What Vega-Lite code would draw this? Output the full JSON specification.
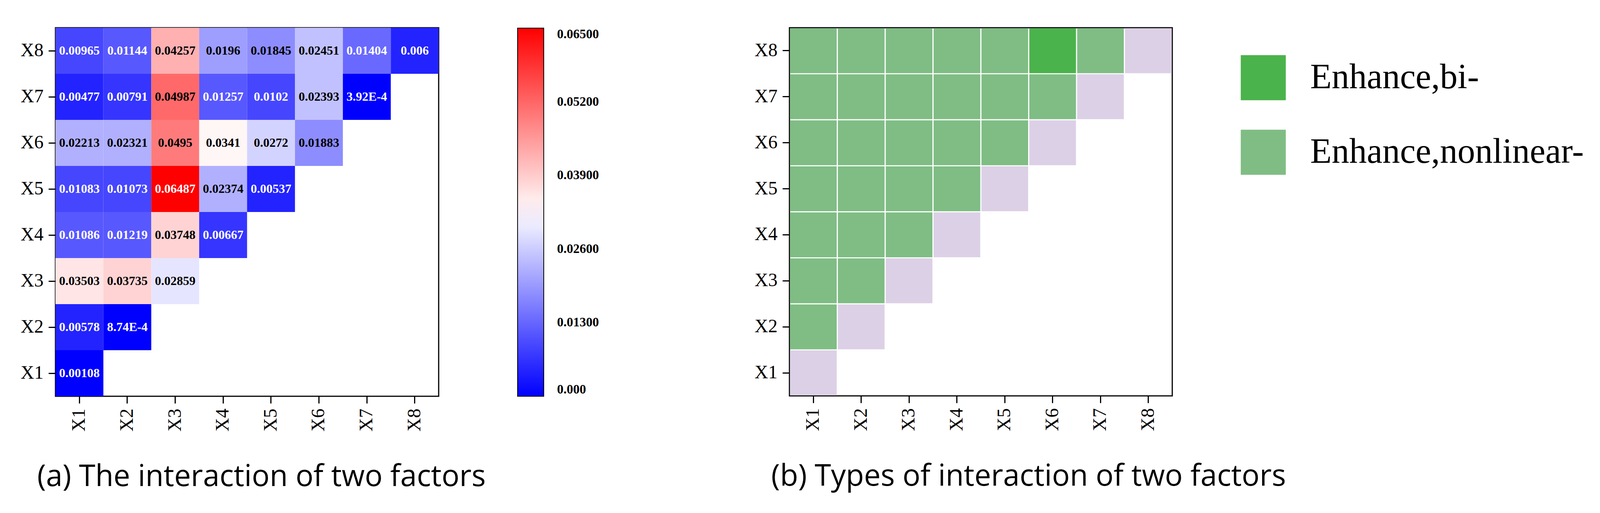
{
  "$schema": "https://vega.github.io/schema/vega-lite/v6.json",
  "background": "white",
  "padding": {"left": 50, "top": 69, "right": 0, "bottom": 24},
  "spacing": 393,
  "resolve": {"scale": {"color": "independent"}, "legend": {"color": "independent"}},
  "datasets": {
    "a": [
      {"row": "X8", "col": "X1", "v": 0.00965, "label": "0.00965"},
      {"row": "X8", "col": "X2", "v": 0.01144, "label": "0.01144"},
      {"row": "X8", "col": "X3", "v": 0.04257, "label": "0.04257"},
      {"row": "X8", "col": "X4", "v": 0.0196, "label": "0.0196"},
      {"row": "X8", "col": "X5", "v": 0.01845, "label": "0.01845"},
      {"row": "X8", "col": "X6", "v": 0.02451, "label": "0.02451"},
      {"row": "X8", "col": "X7", "v": 0.01404, "label": "0.01404"},
      {"row": "X8", "col": "X8", "v": 0.006, "label": "0.006"},
      {"row": "X7", "col": "X1", "v": 0.00477, "label": "0.00477"},
      {"row": "X7", "col": "X2", "v": 0.00791, "label": "0.00791"},
      {"row": "X7", "col": "X3", "v": 0.04987, "label": "0.04987"},
      {"row": "X7", "col": "X4", "v": 0.01257, "label": "0.01257"},
      {"row": "X7", "col": "X5", "v": 0.0102, "label": "0.0102"},
      {"row": "X7", "col": "X6", "v": 0.02393, "label": "0.02393"},
      {"row": "X7", "col": "X7", "v": 0.000392, "label": "3.92E-4"},
      {"row": "X6", "col": "X1", "v": 0.02213, "label": "0.02213"},
      {"row": "X6", "col": "X2", "v": 0.02321, "label": "0.02321"},
      {"row": "X6", "col": "X3", "v": 0.0495, "label": "0.0495"},
      {"row": "X6", "col": "X4", "v": 0.0341, "label": "0.0341"},
      {"row": "X6", "col": "X5", "v": 0.0272, "label": "0.0272"},
      {"row": "X6", "col": "X6", "v": 0.01883, "label": "0.01883"},
      {"row": "X5", "col": "X1", "v": 0.01083, "label": "0.01083"},
      {"row": "X5", "col": "X2", "v": 0.01073, "label": "0.01073"},
      {"row": "X5", "col": "X3", "v": 0.06487, "label": "0.06487"},
      {"row": "X5", "col": "X4", "v": 0.02374, "label": "0.02374"},
      {"row": "X5", "col": "X5", "v": 0.00537, "label": "0.00537"},
      {"row": "X4", "col": "X1", "v": 0.01086, "label": "0.01086"},
      {"row": "X4", "col": "X2", "v": 0.01219, "label": "0.01219"},
      {"row": "X4", "col": "X3", "v": 0.03748, "label": "0.03748"},
      {"row": "X4", "col": "X4", "v": 0.00667, "label": "0.00667"},
      {"row": "X3", "col": "X1", "v": 0.03503, "label": "0.03503"},
      {"row": "X3", "col": "X2", "v": 0.03735, "label": "0.03735"},
      {"row": "X3", "col": "X3", "v": 0.02859, "label": "0.02859"},
      {"row": "X2", "col": "X1", "v": 0.00578, "label": "0.00578"},
      {"row": "X2", "col": "X2", "v": 0.000874, "label": "8.74E-4"},
      {"row": "X1", "col": "X1", "v": 0.00108, "label": "0.00108"}
    ],
    "b": [
      {"row": "X8", "col": "X1", "type": "Enhance,nonlinear-"},
      {"row": "X8", "col": "X2", "type": "Enhance,nonlinear-"},
      {"row": "X8", "col": "X3", "type": "Enhance,nonlinear-"},
      {"row": "X8", "col": "X4", "type": "Enhance,nonlinear-"},
      {"row": "X8", "col": "X5", "type": "Enhance,nonlinear-"},
      {"row": "X8", "col": "X6", "type": "Enhance,bi-"},
      {"row": "X8", "col": "X7", "type": "Enhance,nonlinear-"},
      {"row": "X8", "col": "X8", "type": "Self"},
      {"row": "X7", "col": "X1", "type": "Enhance,nonlinear-"},
      {"row": "X7", "col": "X2", "type": "Enhance,nonlinear-"},
      {"row": "X7", "col": "X3", "type": "Enhance,nonlinear-"},
      {"row": "X7", "col": "X4", "type": "Enhance,nonlinear-"},
      {"row": "X7", "col": "X5", "type": "Enhance,nonlinear-"},
      {"row": "X7", "col": "X6", "type": "Enhance,nonlinear-"},
      {"row": "X7", "col": "X7", "type": "Self"},
      {"row": "X6", "col": "X1", "type": "Enhance,nonlinear-"},
      {"row": "X6", "col": "X2", "type": "Enhance,nonlinear-"},
      {"row": "X6", "col": "X3", "type": "Enhance,nonlinear-"},
      {"row": "X6", "col": "X4", "type": "Enhance,nonlinear-"},
      {"row": "X6", "col": "X5", "type": "Enhance,nonlinear-"},
      {"row": "X6", "col": "X6", "type": "Self"},
      {"row": "X5", "col": "X1", "type": "Enhance,nonlinear-"},
      {"row": "X5", "col": "X2", "type": "Enhance,nonlinear-"},
      {"row": "X5", "col": "X3", "type": "Enhance,nonlinear-"},
      {"row": "X5", "col": "X4", "type": "Enhance,nonlinear-"},
      {"row": "X5", "col": "X5", "type": "Self"},
      {"row": "X4", "col": "X1", "type": "Enhance,nonlinear-"},
      {"row": "X4", "col": "X2", "type": "Enhance,nonlinear-"},
      {"row": "X4", "col": "X3", "type": "Enhance,nonlinear-"},
      {"row": "X4", "col": "X4", "type": "Self"},
      {"row": "X3", "col": "X1", "type": "Enhance,nonlinear-"},
      {"row": "X3", "col": "X2", "type": "Enhance,nonlinear-"},
      {"row": "X3", "col": "X3", "type": "Self"},
      {"row": "X2", "col": "X1", "type": "Enhance,nonlinear-"},
      {"row": "X2", "col": "X2", "type": "Self"},
      {"row": "X1", "col": "X1", "type": "Self"}
    ]
  },
  "config": {
    "view": {"stroke": "black", "strokeWidth": 3},
    "axis": {
      "labelFont": "Liberation Serif",
      "labelFontSize": 48,
      "labelColor": "black",
      "tickColor": "black",
      "tickWidth": 3,
      "tickSize": 18,
      "labelPadding": 13,
      "domain": false,
      "grid": false,
      "title": null
    },
    "axisX": {"labelAngle": 270},
    "title": {"color": "black"}
  },
  "hconcat": [
    {
      "width": 981,
      "height": 944,
      "title": {"text": "(a) The interaction of two factors", "orient": "bottom", "anchor": "start", "dx": 43, "offset": 80, "font": "Open Sans", "fontSize": 76, "fontWeight": "normal"},
      "data": {"name": "a"},
      "encoding": {
        "x": {"field": "col", "type": "nominal", "scale": {"domain": ["X1","X2","X3","X4","X5","X6","X7","X8"], "paddingInner": 0, "paddingOuter": 0}},
        "y": {"field": "row", "type": "nominal", "scale": {"domain": ["X8","X7","X6","X5","X4","X3","X2","X1"], "paddingInner": 0, "paddingOuter": 0}}
      },
      "layer": [
        {
          "mark": {"type": "rect"},
          "encoding": {
            "color": {
              "field": "v",
              "type": "quantitative",
              "scale": {
                "type": "quantize",
                "domain": [0, 0.065],
                "nice": false,
                "zero": false,
                "range": ["#0000ff","#1212ff","#2323ff","#3535ff","#4646ff","#5858ff","#6969ff","#7b7bff","#8d8dff","#9e9eff","#b0b0ff","#c1c1ff","#d3d3ff","#e5e5ff","#f6f6ff","#fff6f6","#ffe5e5","#ffd3d3","#ffc1c1","#ffb0b0","#ff9e9e","#ff8d8d","#ff7b7b","#ff6969","#ff5858","#ff4646","#ff3535","#ff2323","#ff1212","#ff0000"]
              },
              "legend": null
            }
          }
        },
        {
          "mark": {"type": "rect", "opacity": 0},
          "encoding": {
            "color": {
              "field": "v",
              "type": "quantitative",
              "scale": {
                "type": "linear",
                "domain": [0, 0.0325, 0.065],
                "nice": false,
                "zero": false,
                "interpolate": "rgb",
                "range": ["#0000ff", "#ffffff", "#ff0000"]
              },
              "legend": {
                "type": "gradient",
                "title": null,
                "orient": "none",
                "legendX": 1183,
                "legendY": 1,
                "direction": "vertical",
                "gradientLength": 943,
                "gradientThickness": 67,
                "gradientStrokeColor": "black",
                "gradientStrokeWidth": 2,
                "values": [0, 0.013, 0.026, 0.039, 0.052, 0.065],
                "labelFont": "Liberation Serif",
                "labelFontWeight": "bold",
                "labelFontSize": 33,
                "labelColor": "black",
                "labelOffset": 34,
                "labelOverlap": false,
                "labelBaseline": "middle",
                "labelExpr": "datum.value < 0.0001 ? '0.000' : format(datum.value, '.5f')"
              }
            }
          }
        },
        {
          "mark": {"type": "text", "font": "Liberation Serif", "fontWeight": "bold", "fontSize": 32},
          "encoding": {
            "text": {"field": "label", "type": "nominal"},
            "color": {"condition": {"test": "datum.v < 0.015 || datum.v > 0.06", "value": "white"}, "value": "black"}
          }
        }
      ],
      "resolve": {"scale": {"color": "independent"}, "legend": {"color": "independent"}}
    },
    {
      "width": 980,
      "height": 943,
      "title": {"text": "(b) Types of interaction of two factors", "orient": "bottom", "anchor": "start", "dx": 43, "offset": 80, "font": "Open Sans", "fontSize": 76, "fontWeight": "normal"},
      "data": {"name": "b"},
      "mark": {"type": "rect", "width": {"band": 0.975}, "height": {"band": 0.975}},
      "encoding": {
        "x": {"field": "col", "type": "nominal", "scale": {"domain": ["X1","X2","X3","X4","X5","X6","X7","X8"], "paddingInner": 0, "paddingOuter": 0}},
        "y": {"field": "row", "type": "nominal", "scale": {"domain": ["X8","X7","X6","X5","X4","X3","X2","X1"], "paddingInner": 0, "paddingOuter": 0}},
        "color": {
          "field": "type",
          "type": "nominal",
          "scale": {"domain": ["Enhance,bi-","Enhance,nonlinear-","Self"], "range": ["#4bb34b","#7fbd84","#dcd0e6"]},
          "legend": {
            "values": ["Enhance,bi-","Enhance,nonlinear-"],
            "title": null,
            "orient": "none",
            "legendX": 1155,
            "legendY": 70,
            "symbolType": "square",
            "symbolSize": 13300,
            "symbolStrokeWidth": 0,
            "symbolOpacity": 1,
            "labelFont": "Liberation Serif",
            "labelFontSize": 90,
            "labelColor": "black",
            "labelOffset": 62,
            "labelLimit": 0,
            "rowPadding": 75
          }
        }
      }
    }
  ]
}
